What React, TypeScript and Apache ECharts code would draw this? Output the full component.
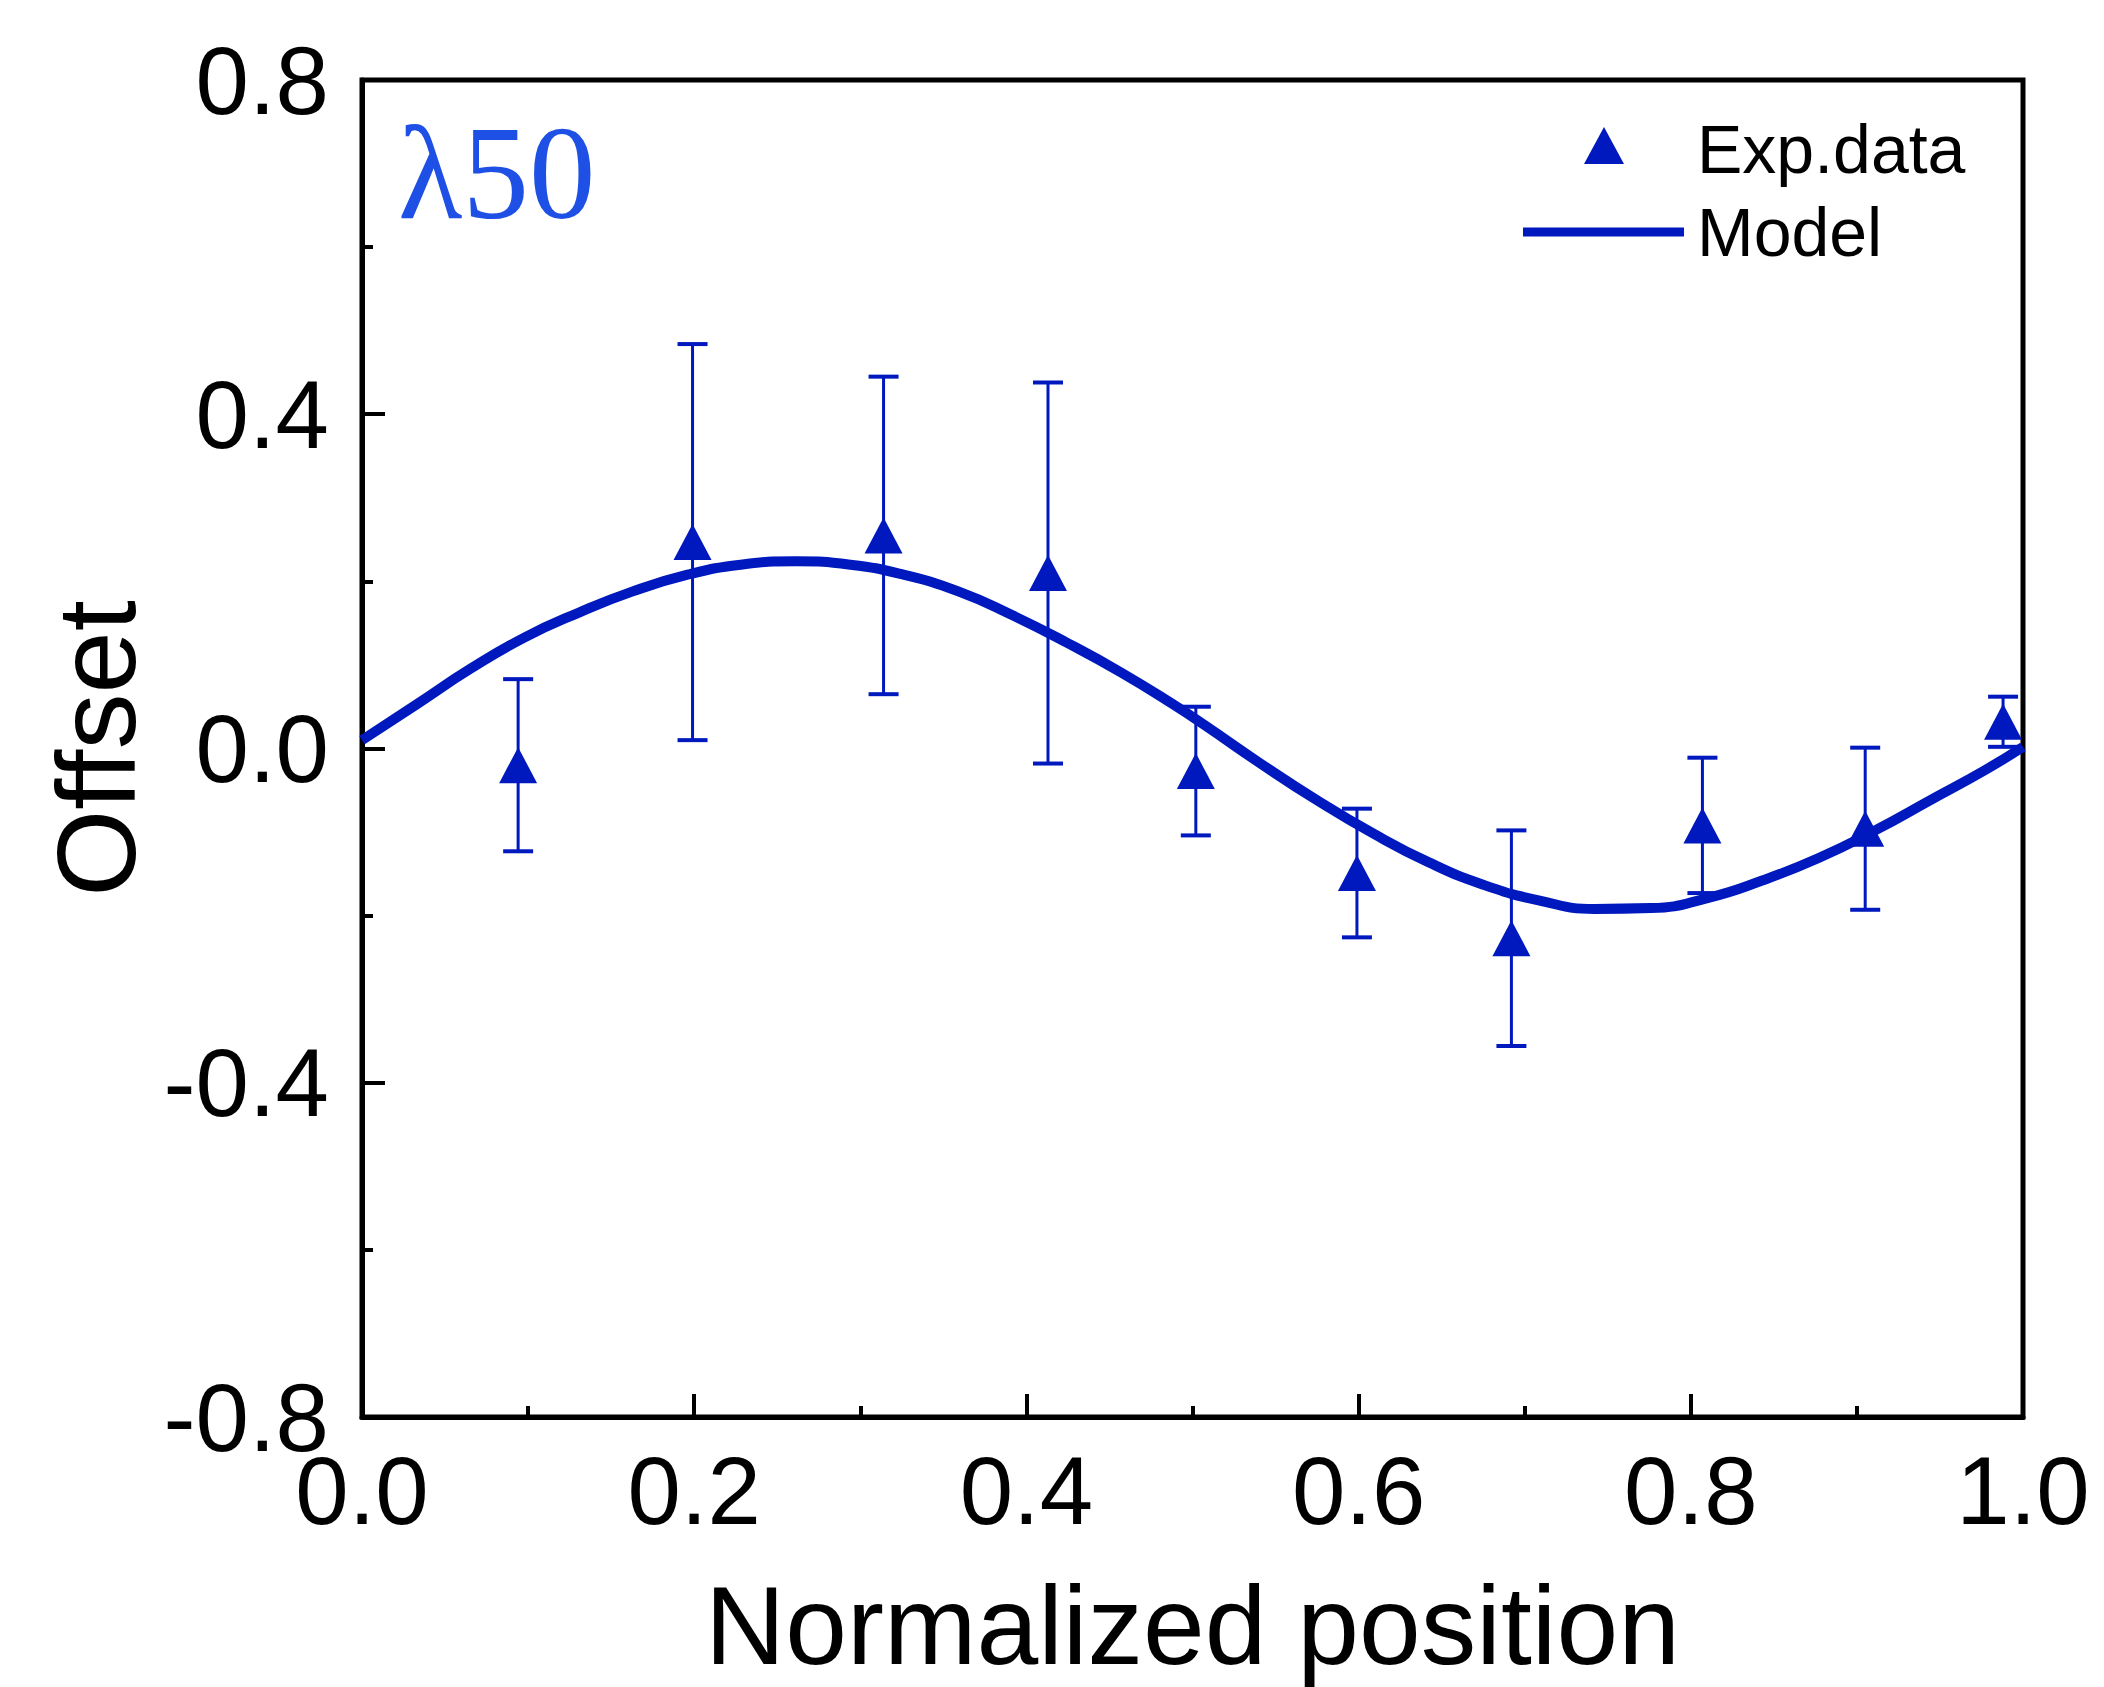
import React, { useEffect, useRef } from "react";
import * as echarts from "echarts";

// Experimental data (normalized position, offset, error)
const expX = [0.094, 0.199, 0.314, 0.413, 0.502, 0.599, 0.692, 0.807, 0.905, 0.988];
const expY = [-0.02, 0.247, 0.255, 0.21, -0.027, -0.149, -0.227, -0.092, -0.096, 0.032];
const expErr = [0.103, 0.237, 0.19, 0.228, 0.077, 0.077, 0.129, 0.081, 0.097, 0.03];

// Model curve
const modelX = [0, 0.033, 0.065, 0.098, 0.131, 0.163, 0.196, 0.228, 0.261, 0.294, 0.326, 0.359, 0.391, 0.424, 0.457, 0.489, 0.508, 0.541, 0.575, 0.609, 0.642, 0.675, 0.709, 0.742, 0.776, 0.81, 0.843, 0.877, 0.911, 0.944, 0.977, 1.0];
const modelY = [0.01, 0.053, 0.095, 0.133, 0.163, 0.188, 0.208, 0.22, 0.224, 0.22, 0.208, 0.188, 0.16, 0.127, 0.091, 0.052, 0.027, -0.018, -0.062, -0.102, -0.136, -0.163, -0.182, -0.192, -0.191, -0.179, -0.158, -0.131, -0.098, -0.062, -0.026, 0.002];

const legendLabels = ["Exp.data", "Model"];
const panelLabel = "λ50";
const xName = "Normalized position";
const yName = "Offset";

const C = "#0019be";
const FONT = "'Liberation Sans', Arial, sans-serif";

export default function App() {
  const ref = useRef<HTMLDivElement>(null);
  useEffect(() => {
    const chart = echarts.init(ref.current!, null, { renderer: "svg" });
    const errorBars = (params: any, api: any) => {
      const x = api.value(0);
      const y = api.value(1);
      const e = api.value(2);
      const top = api.coord([x, y + e]);
      const bot = api.coord([x, y - e]);
      const hw = 15;
      return {
        type: "group",
        children: [
          { type: "line", shape: { x1: top[0], y1: top[1], x2: bot[0], y2: bot[1] }, style: { stroke: C, lineWidth: 3 } },
          { type: "line", shape: { x1: top[0] - hw, y1: top[1], x2: top[0] + hw, y2: top[1] }, style: { stroke: C, lineWidth: 4 } },
          { type: "line", shape: { x1: bot[0] - hw, y1: bot[1], x2: bot[0] + hw, y2: bot[1] }, style: { stroke: C, lineWidth: 4 } },
        ],
      };
    };
    chart.setOption({
      animation: false,
      backgroundColor: "#ffffff",
      grid: {
        left: 362, right: 81, top: 80, bottom: 270,
        show: true, borderColor: "#000", borderWidth: 5, backgroundColor: "transparent",
      },
      xAxis: {
        type: "value", min: 0, max: 1, interval: 0.2,
        axisLine: { show: true, onZero: false, lineStyle: { color: "#000", width: 5 } },
        axisTick: { show: true, inside: true, length: 23, lineStyle: { color: "#000", width: 4 } },
        minorTick: { show: true, splitNumber: 2, length: 11, lineStyle: { color: "#000", width: 4 } },
        splitLine: { show: false },
        minorSplitLine: { show: false },
        axisLabel: { margin: 25, fontSize: 96, color: "#000", fontFamily: FONT, formatter: (v: number) => v.toFixed(1) },
        name: xName, nameLocation: "middle", nameGap: 153,
        nameTextStyle: { fontSize: 111, color: "#000", fontFamily: FONT },
      },
      yAxis: {
        type: "value", min: -0.8, max: 0.8, interval: 0.4,
        axisLine: { show: true, onZero: false, lineStyle: { color: "#000", width: 5 } },
        axisTick: { show: true, inside: true, length: 23, lineStyle: { color: "#000", width: 4 } },
        minorTick: { show: true, splitNumber: 2, length: 11, lineStyle: { color: "#000", width: 4 } },
        splitLine: { show: false },
        minorSplitLine: { show: false },
        axisLabel: { margin: 33, fontSize: 96, color: "#000", fontFamily: FONT, formatter: (v: number) => v.toFixed(1) },
        name: yName, nameLocation: "middle", nameGap: 184, nameRotate: 90,
        nameTextStyle: { fontSize: 112, color: "#000", fontFamily: FONT },
      },
      series: [
        {
          type: "custom",
          renderItem: errorBars,
          data: expX.map((x, i) => [x, expY[i], expErr[i]]),
          encode: { x: 0, y: 1 },
          z: 2,
        },
        {
          type: "line",
          data: modelX.map((x, i) => [x, modelY[i]]),
          smooth: true,
          showSymbol: false,
          lineStyle: { color: C, width: 10 },
          z: 3,
        },
        {
          type: "scatter",
          data: expX.map((x, i) => [x, expY[i]]),
          symbol: "triangle",
          symbolSize: [38, 36],
          itemStyle: { color: C, opacity: 1 },
          z: 4,
        },
      ],
      graphic: [
        {
          type: "text", left: 398, top: 106, z: 10,
          style: { text: panelLabel, fontSize: 133, fontFamily: "'Liberation Serif', 'Times New Roman', serif", fill: "#1e50e6" },
        },
        {
          type: "polygon", z: 10,
          shape: { points: [[1584, 164], [1624, 164], [1604, 127]] },
          style: { fill: C },
        },
        {
          type: "line", z: 10,
          shape: { x1: 1523, y1: 232, x2: 1684, y2: 232 },
          style: { stroke: C, lineWidth: 9 },
        },
        {
          type: "text", x: 1697, y: 149, z: 10,
          style: { text: legendLabels[0], fontSize: 68, fontFamily: FONT, fill: "#000", verticalAlign: "middle", textVerticalAlign: "middle" },
        },
        {
          type: "text", x: 1697, y: 232, z: 10,
          style: { text: legendLabels[1], fontSize: 68, fontFamily: FONT, fill: "#000", verticalAlign: "middle", textVerticalAlign: "middle" },
        },
      ],
    });
    return () => chart.dispose();
  }, []);
  return <div ref={ref} style={{ position: "absolute", left: 0, top: 0, width: 2104, height: 1687 }} />;
}
